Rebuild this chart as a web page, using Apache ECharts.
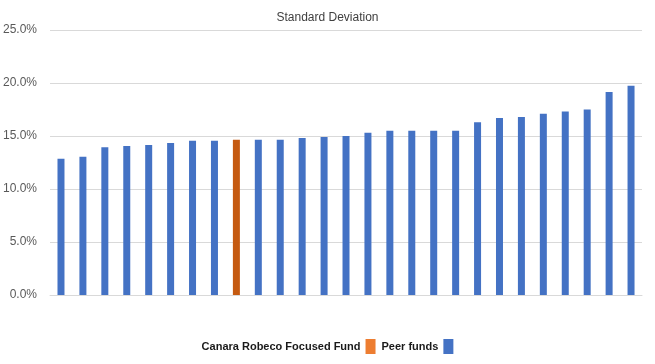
<!DOCTYPE html>
<html>
<head>
<meta charset="utf-8">
<script src="https://cdn.jsdelivr.net/npm/echarts@6/dist/echarts.min.js"></script>
<style>
  html, body { margin: 0; padding: 0; background: #fff; }
  #chart { width: 655px; height: 364px; }
</style>
</head>
<body>
<div id="chart"></div>
<script>
// funds sorted by standard deviation (%), the focused fund sits at index 8
var funds = ['P1', 'P2', 'P3', 'P4', 'P5', 'P6', 'P7', 'P8', 'Canara Robeco Focused Fund',
  'P9', 'P10', 'P11', 'P12', 'P13', 'P14', 'P15', 'P16', 'P17', 'P18', 'P19', 'P20',
  'P21', 'P22', 'P23', 'P24', 'P25', 'P26']
var stdDev = [12.85, 13.05, 13.95, 14.05, 14.15, 14.35, 14.55, 14.55, 14.65,
  14.65, 14.65, 14.8, 14.9, 15.0, 15.3, 15.5, 15.5, 15.5, 15.5, 16.3,
  16.7, 16.8, 17.1, 17.3, 17.5, 19.15, 19.75]
var focusIndex = 8
var yTicks = { min: 0, max: 25, step: 5 }

var fundData = stdDev.map(function (v, i) { return i === focusIndex ? v : '-' })
var peerData = stdDev.map(function (v, i) { return i === focusIndex ? '-' : v })

var chart = echarts.init(document.getElementById('chart'))
var font = 'Liberation Sans'

var option = {
  animation: false,
  title: {
    text: 'Standard Deviation',
    left: 'center',
    top: 7,
    textStyle: { fontFamily: font, fontSize: 12, fontWeight: 'normal', color: '#404040' }
  },
  legend: {
    bottom: 5,
    left: 'center',
    align: 'right',
    itemWidth: 10,
    itemHeight: 15,
    itemGap: 6,
    icon: 'rect',
    textStyle: { fontFamily: font, fontSize: 11, fontWeight: 'bold', color: '#1a1a1a' },
    data: [
      { name: 'Canara Robeco Focused Fund', itemStyle: { color: '#ED7D31' } },
      { name: 'Peer funds', itemStyle: { color: '#4472C4' } }
    ]
  },
  grid: { left: 49, right: 13, top: 30, bottom: 69 },
  xAxis: {
    type: 'category',
    data: funds,
    axisLine: { lineStyle: { color: '#D9D9D9' } },
    axisTick: { show: false },
    axisLabel: { show: false }
  },
  yAxis: {
    type: 'value',
    min: yTicks.min,
    max: yTicks.max,
    interval: yTicks.step,
    axisLine: { show: false },
    axisTick: { show: false },
    splitLine: { lineStyle: { color: '#D9D9D9' } },
    axisLabel: {
      margin: 13,
      fontFamily: font,
      fontSize: 12,
      color: '#595959',
      formatter: function (v) { return v.toFixed(1) + '%' }
    }
  },
  series: [
    {
      name: 'Canara Robeco Focused Fund',
      type: 'bar',
      stack: 'all',
      barWidth: 7,
      itemStyle: { color: '#C55A11' },
      data: fundData
    },
    {
      name: 'Peer funds',
      type: 'bar',
      stack: 'all',
      barWidth: 7,
      itemStyle: { color: '#4472C4' },
      data: peerData
    }
  ]
}

chart.setOption(option)
</script>
</body>
</html>
